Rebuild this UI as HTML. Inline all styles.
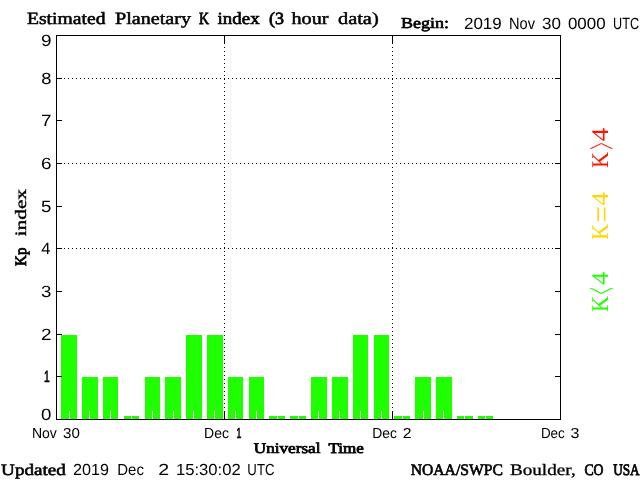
<!DOCTYPE html>
<html><head><meta charset="utf-8"><title>Estimated Planetary K index</title>
<style>html,body{margin:0;padding:0;background:#fff;overflow:hidden}svg{display:block;text-rendering:geometricPrecision;will-change:transform}text{font-family:"Liberation Sans",sans-serif;font-size:14.5px;fill:#000}.s{font-family:"Liberation Serif",serif;font-weight:normal;font-size:15.5px;stroke:#000;stroke-width:0.5px}.sb{font-family:"Liberation Serif",serif;font-weight:bold;font-size:15.5px;stroke:#000;stroke-width:0.35px}.one{stroke:#000;stroke-width:0.7px}.c{font-family:"Liberation Serif",serif;font-weight:normal;font-size:15.5px;stroke:#000;stroke-width:0.4px}.k{font-family:"Liberation Serif",serif;font-weight:normal;font-size:24px}</style></head><body>
<svg width="640" height="480" viewBox="0 0 640 480">
<rect x="0" y="0" width="640" height="480" fill="#ffffff"/>
<g shape-rendering="crispEdges" fill="#1fff00">
<rect x="61" y="335" width="16" height="84"/>
<rect x="82" y="377" width="16" height="42"/>
<rect x="103" y="377" width="15" height="42"/>
<rect x="124" y="416" width="15" height="3"/>
<rect x="145" y="377" width="15" height="42"/>
<rect x="165" y="377" width="16" height="42"/>
<rect x="186" y="335" width="16" height="84"/>
<rect x="207" y="335" width="16" height="84"/>
<rect x="228" y="377" width="15" height="42"/>
<rect x="249" y="377" width="15" height="42"/>
<rect x="269" y="416" width="16" height="3"/>
<rect x="290" y="416" width="16" height="3"/>
<rect x="311" y="377" width="16" height="42"/>
<rect x="332" y="377" width="16" height="42"/>
<rect x="353" y="335" width="15" height="84"/>
<rect x="374" y="335" width="15" height="84"/>
<rect x="394" y="416" width="16" height="3"/>
<rect x="415" y="377" width="16" height="42"/>
<rect x="436" y="377" width="16" height="42"/>
<rect x="457" y="416" width="16" height="3"/>
<rect x="478" y="416" width="15" height="3"/>
</g>
<g shape-rendering="crispEdges" fill="#ffffff">
<rect x="69" y="411" width="1" height="8"/>
<rect x="89" y="411" width="1" height="8"/>
<rect x="110" y="411" width="1" height="8"/>
<rect x="131" y="411" width="1" height="8"/>
<rect x="152" y="411" width="1" height="8"/>
<rect x="173" y="411" width="1" height="8"/>
<rect x="193" y="411" width="1" height="8"/>
<rect x="214" y="411" width="1" height="8"/>
<rect x="235" y="411" width="1" height="8"/>
<rect x="256" y="411" width="1" height="8"/>
<rect x="277" y="411" width="1" height="8"/>
<rect x="298" y="411" width="1" height="8"/>
<rect x="318" y="411" width="1" height="8"/>
<rect x="339" y="411" width="1" height="8"/>
<rect x="360" y="411" width="1" height="8"/>
<rect x="381" y="411" width="1" height="8"/>
<rect x="402" y="411" width="1" height="8"/>
<rect x="423" y="411" width="1" height="8"/>
<rect x="443" y="411" width="1" height="8"/>
<rect x="464" y="411" width="1" height="8"/>
<rect x="485" y="411" width="1" height="8"/>
</g>
<g shape-rendering="crispEdges" fill="#000">
<path d="M60 78h1v1h-1zM64 78h1v1h-1zM68 78h1v1h-1zM72 78h1v1h-1zM76 78h1v1h-1zM80 78h1v1h-1zM84 78h1v1h-1zM88 78h1v1h-1zM92 78h1v1h-1zM96 78h1v1h-1zM100 78h1v1h-1zM104 78h1v1h-1zM108 78h1v1h-1zM112 78h1v1h-1zM116 78h1v1h-1zM120 78h1v1h-1zM124 78h1v1h-1zM128 78h1v1h-1zM132 78h1v1h-1zM136 78h1v1h-1zM140 78h1v1h-1zM144 78h1v1h-1zM148 78h1v1h-1zM152 78h1v1h-1zM156 78h1v1h-1zM160 78h1v1h-1zM164 78h1v1h-1zM168 78h1v1h-1zM172 78h1v1h-1zM176 78h1v1h-1zM180 78h1v1h-1zM184 78h1v1h-1zM188 78h1v1h-1zM192 78h1v1h-1zM196 78h1v1h-1zM200 78h1v1h-1zM204 78h1v1h-1zM208 78h1v1h-1zM212 78h1v1h-1zM216 78h1v1h-1zM220 78h1v1h-1zM224 78h1v1h-1zM228 78h1v1h-1zM232 78h1v1h-1zM236 78h1v1h-1zM240 78h1v1h-1zM244 78h1v1h-1zM248 78h1v1h-1zM252 78h1v1h-1zM256 78h1v1h-1zM260 78h1v1h-1zM264 78h1v1h-1zM268 78h1v1h-1zM272 78h1v1h-1zM276 78h1v1h-1zM280 78h1v1h-1zM284 78h1v1h-1zM288 78h1v1h-1zM292 78h1v1h-1zM296 78h1v1h-1zM300 78h1v1h-1zM304 78h1v1h-1zM308 78h1v1h-1zM312 78h1v1h-1zM316 78h1v1h-1zM320 78h1v1h-1zM324 78h1v1h-1zM328 78h1v1h-1zM332 78h1v1h-1zM336 78h1v1h-1zM340 78h1v1h-1zM344 78h1v1h-1zM348 78h1v1h-1zM352 78h1v1h-1zM356 78h1v1h-1zM360 78h1v1h-1zM364 78h1v1h-1zM368 78h1v1h-1zM372 78h1v1h-1zM376 78h1v1h-1zM380 78h1v1h-1zM384 78h1v1h-1zM388 78h1v1h-1zM392 78h1v1h-1zM396 78h1v1h-1zM400 78h1v1h-1zM404 78h1v1h-1zM408 78h1v1h-1zM412 78h1v1h-1zM416 78h1v1h-1zM420 78h1v1h-1zM424 78h1v1h-1zM428 78h1v1h-1zM432 78h1v1h-1zM436 78h1v1h-1zM440 78h1v1h-1zM444 78h1v1h-1zM448 78h1v1h-1zM452 78h1v1h-1zM456 78h1v1h-1zM460 78h1v1h-1zM464 78h1v1h-1zM468 78h1v1h-1zM472 78h1v1h-1zM476 78h1v1h-1zM480 78h1v1h-1zM484 78h1v1h-1zM488 78h1v1h-1zM492 78h1v1h-1zM496 78h1v1h-1zM500 78h1v1h-1zM504 78h1v1h-1zM508 78h1v1h-1zM512 78h1v1h-1zM516 78h1v1h-1zM520 78h1v1h-1zM524 78h1v1h-1zM528 78h1v1h-1zM532 78h1v1h-1zM536 78h1v1h-1zM540 78h1v1h-1zM544 78h1v1h-1zM548 78h1v1h-1zM552 78h1v1h-1zM556 78h1v1h-1zM60 163h1v1h-1zM64 163h1v1h-1zM68 163h1v1h-1zM72 163h1v1h-1zM76 163h1v1h-1zM80 163h1v1h-1zM84 163h1v1h-1zM88 163h1v1h-1zM92 163h1v1h-1zM96 163h1v1h-1zM100 163h1v1h-1zM104 163h1v1h-1zM108 163h1v1h-1zM112 163h1v1h-1zM116 163h1v1h-1zM120 163h1v1h-1zM124 163h1v1h-1zM128 163h1v1h-1zM132 163h1v1h-1zM136 163h1v1h-1zM140 163h1v1h-1zM144 163h1v1h-1zM148 163h1v1h-1zM152 163h1v1h-1zM156 163h1v1h-1zM160 163h1v1h-1zM164 163h1v1h-1zM168 163h1v1h-1zM172 163h1v1h-1zM176 163h1v1h-1zM180 163h1v1h-1zM184 163h1v1h-1zM188 163h1v1h-1zM192 163h1v1h-1zM196 163h1v1h-1zM200 163h1v1h-1zM204 163h1v1h-1zM208 163h1v1h-1zM212 163h1v1h-1zM216 163h1v1h-1zM220 163h1v1h-1zM224 163h1v1h-1zM228 163h1v1h-1zM232 163h1v1h-1zM236 163h1v1h-1zM240 163h1v1h-1zM244 163h1v1h-1zM248 163h1v1h-1zM252 163h1v1h-1zM256 163h1v1h-1zM260 163h1v1h-1zM264 163h1v1h-1zM268 163h1v1h-1zM272 163h1v1h-1zM276 163h1v1h-1zM280 163h1v1h-1zM284 163h1v1h-1zM288 163h1v1h-1zM292 163h1v1h-1zM296 163h1v1h-1zM300 163h1v1h-1zM304 163h1v1h-1zM308 163h1v1h-1zM312 163h1v1h-1zM316 163h1v1h-1zM320 163h1v1h-1zM324 163h1v1h-1zM328 163h1v1h-1zM332 163h1v1h-1zM336 163h1v1h-1zM340 163h1v1h-1zM344 163h1v1h-1zM348 163h1v1h-1zM352 163h1v1h-1zM356 163h1v1h-1zM360 163h1v1h-1zM364 163h1v1h-1zM368 163h1v1h-1zM372 163h1v1h-1zM376 163h1v1h-1zM380 163h1v1h-1zM384 163h1v1h-1zM388 163h1v1h-1zM392 163h1v1h-1zM396 163h1v1h-1zM400 163h1v1h-1zM404 163h1v1h-1zM408 163h1v1h-1zM412 163h1v1h-1zM416 163h1v1h-1zM420 163h1v1h-1zM424 163h1v1h-1zM428 163h1v1h-1zM432 163h1v1h-1zM436 163h1v1h-1zM440 163h1v1h-1zM444 163h1v1h-1zM448 163h1v1h-1zM452 163h1v1h-1zM456 163h1v1h-1zM460 163h1v1h-1zM464 163h1v1h-1zM468 163h1v1h-1zM472 163h1v1h-1zM476 163h1v1h-1zM480 163h1v1h-1zM484 163h1v1h-1zM488 163h1v1h-1zM492 163h1v1h-1zM496 163h1v1h-1zM500 163h1v1h-1zM504 163h1v1h-1zM508 163h1v1h-1zM512 163h1v1h-1zM516 163h1v1h-1zM520 163h1v1h-1zM524 163h1v1h-1zM528 163h1v1h-1zM532 163h1v1h-1zM536 163h1v1h-1zM540 163h1v1h-1zM544 163h1v1h-1zM548 163h1v1h-1zM552 163h1v1h-1zM556 163h1v1h-1zM60 248h1v1h-1zM64 248h1v1h-1zM68 248h1v1h-1zM72 248h1v1h-1zM76 248h1v1h-1zM80 248h1v1h-1zM84 248h1v1h-1zM88 248h1v1h-1zM92 248h1v1h-1zM96 248h1v1h-1zM100 248h1v1h-1zM104 248h1v1h-1zM108 248h1v1h-1zM112 248h1v1h-1zM116 248h1v1h-1zM120 248h1v1h-1zM124 248h1v1h-1zM128 248h1v1h-1zM132 248h1v1h-1zM136 248h1v1h-1zM140 248h1v1h-1zM144 248h1v1h-1zM148 248h1v1h-1zM152 248h1v1h-1zM156 248h1v1h-1zM160 248h1v1h-1zM164 248h1v1h-1zM168 248h1v1h-1zM172 248h1v1h-1zM176 248h1v1h-1zM180 248h1v1h-1zM184 248h1v1h-1zM188 248h1v1h-1zM192 248h1v1h-1zM196 248h1v1h-1zM200 248h1v1h-1zM204 248h1v1h-1zM208 248h1v1h-1zM212 248h1v1h-1zM216 248h1v1h-1zM220 248h1v1h-1zM224 248h1v1h-1zM228 248h1v1h-1zM232 248h1v1h-1zM236 248h1v1h-1zM240 248h1v1h-1zM244 248h1v1h-1zM248 248h1v1h-1zM252 248h1v1h-1zM256 248h1v1h-1zM260 248h1v1h-1zM264 248h1v1h-1zM268 248h1v1h-1zM272 248h1v1h-1zM276 248h1v1h-1zM280 248h1v1h-1zM284 248h1v1h-1zM288 248h1v1h-1zM292 248h1v1h-1zM296 248h1v1h-1zM300 248h1v1h-1zM304 248h1v1h-1zM308 248h1v1h-1zM312 248h1v1h-1zM316 248h1v1h-1zM320 248h1v1h-1zM324 248h1v1h-1zM328 248h1v1h-1zM332 248h1v1h-1zM336 248h1v1h-1zM340 248h1v1h-1zM344 248h1v1h-1zM348 248h1v1h-1zM352 248h1v1h-1zM356 248h1v1h-1zM360 248h1v1h-1zM364 248h1v1h-1zM368 248h1v1h-1zM372 248h1v1h-1zM376 248h1v1h-1zM380 248h1v1h-1zM384 248h1v1h-1zM388 248h1v1h-1zM392 248h1v1h-1zM396 248h1v1h-1zM400 248h1v1h-1zM404 248h1v1h-1zM408 248h1v1h-1zM412 248h1v1h-1zM416 248h1v1h-1zM420 248h1v1h-1zM424 248h1v1h-1zM428 248h1v1h-1zM432 248h1v1h-1zM436 248h1v1h-1zM440 248h1v1h-1zM444 248h1v1h-1zM448 248h1v1h-1zM452 248h1v1h-1zM456 248h1v1h-1zM460 248h1v1h-1zM464 248h1v1h-1zM468 248h1v1h-1zM472 248h1v1h-1zM476 248h1v1h-1zM480 248h1v1h-1zM484 248h1v1h-1zM488 248h1v1h-1zM492 248h1v1h-1zM496 248h1v1h-1zM500 248h1v1h-1zM504 248h1v1h-1zM508 248h1v1h-1zM512 248h1v1h-1zM516 248h1v1h-1zM520 248h1v1h-1zM524 248h1v1h-1zM528 248h1v1h-1zM532 248h1v1h-1zM536 248h1v1h-1zM540 248h1v1h-1zM544 248h1v1h-1zM548 248h1v1h-1zM552 248h1v1h-1zM556 248h1v1h-1zM224 47h1v1h-1zM224 51h1v1h-1zM224 55h1v1h-1zM224 59h1v1h-1zM224 63h1v1h-1zM224 67h1v1h-1zM224 71h1v1h-1zM224 75h1v1h-1zM224 79h1v1h-1zM224 83h1v1h-1zM224 87h1v1h-1zM224 91h1v1h-1zM224 95h1v1h-1zM224 99h1v1h-1zM224 103h1v1h-1zM224 107h1v1h-1zM224 111h1v1h-1zM224 115h1v1h-1zM224 119h1v1h-1zM224 123h1v1h-1zM224 127h1v1h-1zM224 131h1v1h-1zM224 135h1v1h-1zM224 139h1v1h-1zM224 143h1v1h-1zM224 147h1v1h-1zM224 151h1v1h-1zM224 155h1v1h-1zM224 159h1v1h-1zM224 163h1v1h-1zM224 167h1v1h-1zM224 171h1v1h-1zM224 175h1v1h-1zM224 179h1v1h-1zM224 183h1v1h-1zM224 187h1v1h-1zM224 191h1v1h-1zM224 195h1v1h-1zM224 199h1v1h-1zM224 203h1v1h-1zM224 207h1v1h-1zM224 211h1v1h-1zM224 215h1v1h-1zM224 219h1v1h-1zM224 223h1v1h-1zM224 227h1v1h-1zM224 231h1v1h-1zM224 235h1v1h-1zM224 239h1v1h-1zM224 243h1v1h-1zM224 247h1v1h-1zM224 251h1v1h-1zM224 255h1v1h-1zM224 259h1v1h-1zM224 263h1v1h-1zM224 267h1v1h-1zM224 271h1v1h-1zM224 275h1v1h-1zM224 279h1v1h-1zM224 283h1v1h-1zM224 287h1v1h-1zM224 291h1v1h-1zM224 295h1v1h-1zM224 299h1v1h-1zM224 303h1v1h-1zM224 307h1v1h-1zM224 311h1v1h-1zM224 315h1v1h-1zM224 319h1v1h-1zM224 323h1v1h-1zM224 327h1v1h-1zM224 331h1v1h-1zM224 335h1v1h-1zM224 339h1v1h-1zM224 343h1v1h-1zM224 347h1v1h-1zM224 351h1v1h-1zM224 355h1v1h-1zM224 359h1v1h-1zM224 363h1v1h-1zM224 367h1v1h-1zM224 371h1v1h-1zM224 375h1v1h-1zM224 379h1v1h-1zM224 383h1v1h-1zM224 387h1v1h-1zM224 391h1v1h-1zM224 395h1v1h-1zM224 399h1v1h-1zM224 403h1v1h-1zM224 407h1v1h-1zM224 411h1v1h-1zM392 47h1v1h-1zM392 51h1v1h-1zM392 55h1v1h-1zM392 59h1v1h-1zM392 63h1v1h-1zM392 67h1v1h-1zM392 71h1v1h-1zM392 75h1v1h-1zM392 79h1v1h-1zM392 83h1v1h-1zM392 87h1v1h-1zM392 91h1v1h-1zM392 95h1v1h-1zM392 99h1v1h-1zM392 103h1v1h-1zM392 107h1v1h-1zM392 111h1v1h-1zM392 115h1v1h-1zM392 119h1v1h-1zM392 123h1v1h-1zM392 127h1v1h-1zM392 131h1v1h-1zM392 135h1v1h-1zM392 139h1v1h-1zM392 143h1v1h-1zM392 147h1v1h-1zM392 151h1v1h-1zM392 155h1v1h-1zM392 159h1v1h-1zM392 163h1v1h-1zM392 167h1v1h-1zM392 171h1v1h-1zM392 175h1v1h-1zM392 179h1v1h-1zM392 183h1v1h-1zM392 187h1v1h-1zM392 191h1v1h-1zM392 195h1v1h-1zM392 199h1v1h-1zM392 203h1v1h-1zM392 207h1v1h-1zM392 211h1v1h-1zM392 215h1v1h-1zM392 219h1v1h-1zM392 223h1v1h-1zM392 227h1v1h-1zM392 231h1v1h-1zM392 235h1v1h-1zM392 239h1v1h-1zM392 243h1v1h-1zM392 247h1v1h-1zM392 251h1v1h-1zM392 255h1v1h-1zM392 259h1v1h-1zM392 263h1v1h-1zM392 267h1v1h-1zM392 271h1v1h-1zM392 275h1v1h-1zM392 279h1v1h-1zM392 283h1v1h-1zM392 287h1v1h-1zM392 291h1v1h-1zM392 295h1v1h-1zM392 299h1v1h-1zM392 303h1v1h-1zM392 307h1v1h-1zM392 311h1v1h-1zM392 315h1v1h-1zM392 319h1v1h-1zM392 323h1v1h-1zM392 327h1v1h-1zM392 331h1v1h-1zM392 335h1v1h-1zM392 339h1v1h-1zM392 343h1v1h-1zM392 347h1v1h-1zM392 351h1v1h-1zM392 355h1v1h-1zM392 359h1v1h-1zM392 363h1v1h-1zM392 367h1v1h-1zM392 371h1v1h-1zM392 375h1v1h-1zM392 379h1v1h-1zM392 383h1v1h-1zM392 387h1v1h-1zM392 391h1v1h-1zM392 395h1v1h-1zM392 399h1v1h-1zM392 403h1v1h-1zM392 407h1v1h-1zM392 411h1v1h-1z"/>
<rect x="56" y="35" width="505" height="1"/>
<rect x="56" y="419" width="505" height="1"/>
<rect x="56" y="35" width="1" height="385"/>
<rect x="560" y="35" width="1" height="385"/>
<rect x="57" y="376" width="5" height="1"/>
<rect x="555" y="376" width="5" height="1"/>
<rect x="57" y="334" width="5" height="1"/>
<rect x="555" y="334" width="5" height="1"/>
<rect x="57" y="291" width="5" height="1"/>
<rect x="555" y="291" width="5" height="1"/>
<rect x="57" y="248" width="5" height="1"/>
<rect x="555" y="248" width="5" height="1"/>
<rect x="57" y="206" width="5" height="1"/>
<rect x="555" y="206" width="5" height="1"/>
<rect x="57" y="163" width="5" height="1"/>
<rect x="555" y="163" width="5" height="1"/>
<rect x="57" y="120" width="5" height="1"/>
<rect x="555" y="120" width="5" height="1"/>
<rect x="57" y="78" width="5" height="1"/>
<rect x="555" y="78" width="5" height="1"/>
<rect x="224" y="36" width="1" height="8"/>
<rect x="224" y="411" width="1" height="8"/>
<rect x="392" y="36" width="1" height="8"/>
<rect x="392" y="411" width="1" height="8"/>
</g>
<text><tspan class="s" x="26.99" y="24.00" textLength="78.49" lengthAdjust="spacingAndGlyphs" style="font-size:17.1px;stroke-width:0.55px">Estimated</tspan> <tspan class="s" x="114.97" y="24.00" textLength="76.03" lengthAdjust="spacingAndGlyphs" style="font-size:17.1px;stroke-width:0.50px">Planetary</tspan> <tspan class="s" x="198.97" y="24.00" textLength="10.05" lengthAdjust="spacingAndGlyphs" style="font-size:17.1px;stroke-width:0.80px">K</tspan> <tspan class="s" x="217.57" y="24.00" textLength="42.06" lengthAdjust="spacingAndGlyphs" style="font-size:17.1px;stroke-width:0.62px">index</tspan> <tspan class="s" x="269.00" y="24.00" textLength="15.00" lengthAdjust="spacingAndGlyphs" style="font-size:17.1px;stroke-width:0.73px">(3</tspan> <tspan class="s" x="291.46" y="24.00" textLength="37.03" lengthAdjust="spacingAndGlyphs" style="font-size:17.1px;stroke-width:0.49px">hour</tspan> <tspan class="s" x="337.96" y="24.00" textLength="40.77" lengthAdjust="spacingAndGlyphs" style="font-size:17.1px;stroke-width:0.47px">data)</tspan></text>
<text><tspan class="s" x="401.00" y="27.80" textLength="47.97" lengthAdjust="spacingAndGlyphs" style="font-size:15.3px;stroke-width:0.66px">Begin:</tspan> <tspan x="463.97" y="29.00" textLength="37.81" lengthAdjust="spacingAndGlyphs" style="font-size:16.3px">2019</tspan> <tspan x="508.96" y="29.00" textLength="26.04" lengthAdjust="spacingAndGlyphs" style="font-size:16.3px">Nov</tspan> <tspan x="542.04" y="29.00" textLength="18.95" lengthAdjust="spacingAndGlyphs" style="font-size:16.3px">30</tspan> <tspan x="567.96" y="29.00" textLength="37.62" lengthAdjust="spacingAndGlyphs" style="font-size:16.3px">0000</tspan> <tspan x="613.05" y="29.00" textLength="26.04" lengthAdjust="spacingAndGlyphs" style="font-size:16.3px">UTC</tspan></text>
<text><tspan x="41.03" y="45.90" textLength="10.54" lengthAdjust="spacingAndGlyphs" style="font-size:16.3px">9</tspan></text>
<text><tspan x="41.20" y="83.90" textLength="10.21" lengthAdjust="spacingAndGlyphs" style="font-size:16.3px">8</tspan></text>
<text><tspan x="41.03" y="125.90" textLength="10.54" lengthAdjust="spacingAndGlyphs" style="font-size:16.3px">7</tspan></text>
<text><tspan x="41.03" y="168.90" textLength="10.54" lengthAdjust="spacingAndGlyphs" style="font-size:16.3px">6</tspan></text>
<text><tspan x="41.03" y="211.90" textLength="10.37" lengthAdjust="spacingAndGlyphs" style="font-size:16.3px">5</tspan></text>
<text><tspan x="41.23" y="253.90" textLength="9.22" lengthAdjust="spacingAndGlyphs" style="font-size:16.3px">4</tspan></text>
<text><tspan x="41.10" y="296.90" textLength="10.37" lengthAdjust="spacingAndGlyphs" style="font-size:16.3px">3</tspan></text>
<text><tspan x="41.03" y="339.90" textLength="10.54" lengthAdjust="spacingAndGlyphs" style="font-size:16.3px">2</tspan></text>
<text><tspan class="one" x="44.02" y="381.90" textLength="5.72" lengthAdjust="spacingAndGlyphs" style="font-size:16.3px">1</tspan></text>
<text><tspan x="41.12" y="419.80" textLength="10.37" lengthAdjust="spacingAndGlyphs" style="font-size:16.3px">0</tspan></text>
<text><tspan x="31.96" y="438.00" textLength="24.93" lengthAdjust="spacingAndGlyphs">Nov</tspan> <tspan x="63.04" y="438.00" textLength="16.82" lengthAdjust="spacingAndGlyphs">30</tspan></text>
<text><tspan x="204.08" y="438.00" textLength="24.93" lengthAdjust="spacingAndGlyphs">Dec</tspan> <tspan class="one" x="236.41" y="438.00" textLength="4.89" lengthAdjust="spacingAndGlyphs">1</tspan></text>
<text><tspan x="372.22" y="438.00" textLength="24.71" lengthAdjust="spacingAndGlyphs">Dec</tspan> <tspan x="402.73" y="438.00" textLength="8.79" lengthAdjust="spacingAndGlyphs">2</tspan></text>
<text><tspan x="540.94" y="438.00" textLength="23.85" lengthAdjust="spacingAndGlyphs">Dec</tspan> <tspan x="570.51" y="438.00" textLength="8.93" lengthAdjust="spacingAndGlyphs">3</tspan></text>
<text><tspan class="s" x="253.81" y="452.60" textLength="66.68" lengthAdjust="spacingAndGlyphs" style="font-size:14.8px;stroke-width:0.73px">Universal</tspan> <tspan class="s" x="328.49" y="452.60" textLength="35.37" lengthAdjust="spacingAndGlyphs" style="font-size:14.8px;stroke-width:0.77px">Time</tspan></text>
<text><tspan class="s" x="1.14" y="474.50" textLength="64.73" lengthAdjust="spacingAndGlyphs" style="font-size:16px;stroke-width:0.57px">Updated</tspan> <tspan x="72.95" y="474.70" textLength="35.97" lengthAdjust="spacingAndGlyphs" style="font-size:16px">2019</tspan> <tspan x="117.30" y="474.70" textLength="26.60" lengthAdjust="spacingAndGlyphs" style="font-size:16px">Dec</tspan> <tspan x="158.19" y="474.70" textLength="10.89" lengthAdjust="spacingAndGlyphs" style="font-size:16px">2</tspan> <tspan x="175.96" y="474.70" textLength="64.75" lengthAdjust="spacingAndGlyphs" style="font-size:16px">15:30:02</tspan> <tspan x="247.37" y="474.70" textLength="27.15" lengthAdjust="spacingAndGlyphs" style="font-size:16px">UTC</tspan></text>
<text><tspan class="c" x="410.75" y="474.50" textLength="92.08" lengthAdjust="spacingAndGlyphs" style="font-size:16px;stroke-width:0.64px">NOAA/SWPC</tspan> <tspan class="c" x="509.93" y="474.50" textLength="65.76" lengthAdjust="spacingAndGlyphs" style="font-size:16px;stroke-width:0.30px">Boulder,</tspan> <tspan class="c" x="584.48" y="474.50" textLength="19.06" lengthAdjust="spacingAndGlyphs" style="font-size:16px;stroke-width:0.80px">CO</tspan> <tspan class="c" x="613.13" y="474.50" textLength="26.47" lengthAdjust="spacingAndGlyphs" style="font-size:16px;stroke-width:0.80px">USA</tspan></text>
<text transform="translate(26.40,0) rotate(-90)"><tspan class="s" x="-266.03" y="0" textLength="18.46" lengthAdjust="spacingAndGlyphs" style="font-size:15.9px;stroke-width:0.80px">Kp</tspan> <tspan class="s" x="-236.30" y="0" textLength="47.31" lengthAdjust="spacingAndGlyphs" style="font-size:15.9px;stroke-width:0.37px">index</tspan></text>
<text class="k" transform="translate(608.00,168.10) rotate(-90)" textLength="15.99" lengthAdjust="spacingAndGlyphs" style="fill:#ff1400">K</text>
<text class="k" transform="translate(608,167) rotate(-90) translate(17.62,9.57) scale(0.5149,2.0945)" style="fill:#ff1400">&gt;</text>
<text class="k" transform="translate(608.00,141.33) rotate(-90)" textLength="13.33" lengthAdjust="spacingAndGlyphs" style="fill:#ff1400">4</text>
<text class="k" transform="translate(608.00,240.09) rotate(-90)" textLength="16.28" lengthAdjust="spacingAndGlyphs" style="fill:#ffd700">K</text>
<text class="k" transform="translate(608,239) rotate(-90) translate(16.28,3.62) scale(1.2312,1.3333)" style="fill:#ffd700">=</text>
<text class="k" transform="translate(608.00,205.42) rotate(-90)" textLength="13.42" lengthAdjust="spacingAndGlyphs" style="fill:#ffd700">4</text>
<text class="k" transform="translate(608.00,312.09) rotate(-90)" textLength="16.07" lengthAdjust="spacingAndGlyphs" style="fill:#1fff00">K</text>
<text class="k" transform="translate(608,311) rotate(-90) translate(16.63,9.57) scale(0.5149,2.0945)" style="fill:#1fff00">&lt;</text>
<text class="k" transform="translate(608.00,284.79) rotate(-90)" textLength="12.79" lengthAdjust="spacingAndGlyphs" style="fill:#1fff00">4</text>
</svg></body></html>
